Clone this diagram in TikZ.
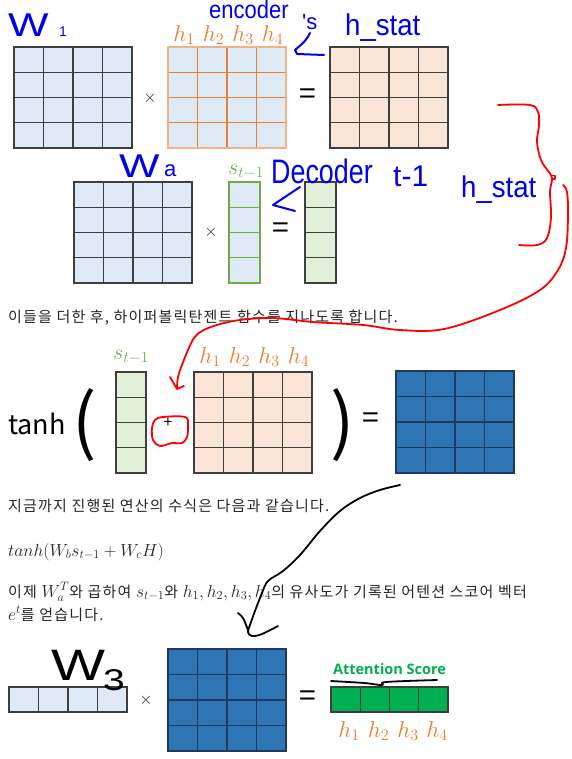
\RequirePackage{fix-cm}
\documentclass[tikz,border=0pt]{standalone}
\usepackage{fontspec}
\setmainfont{Noto Sans CJK KR}
\newfontfamily\kr{Noto Sans CJK KR}[LetterSpace=8]
\newfontfamily\hand{Liberation Sans}
\newfontfamily\osans{Open Sans}
\usetikzlibrary{calc}
\definecolor{lblue}{HTML}{DEEBF7}
\definecolor{peach}{HTML}{FBE5D6}
\definecolor{lgreen}{HTML}{E2F0D9}
\definecolor{dblue}{HTML}{2E75B6}
\definecolor{sgreen}{HTML}{00B050}
\definecolor{orng}{HTML}{ED7D31}
\definecolor{lorng}{HTML}{F4B183}
\definecolor{glab}{HTML}{70AD47}
\definecolor{gridc}{HTML}{3F3F3F}
\definecolor{navy}{HTML}{1F3A5F}
\definecolor{txt}{HTML}{262626}
\definecolor{pen}{HTML}{0000F0}
\definecolor{redpen}{HTML}{FF0000}

\newcommand{\gridm}[9]{%
  \node[draw=#9, fill=#8, line width=1.2pt, minimum width=#4pt, minimum height=#5pt,
        inner sep=0pt, outer sep=0pt, anchor=north west] (#1) at (#2,#3) {};
  \ifnum#6>1
    \foreach \k in {2,...,#6}{\draw[draw=#9, line width=1.2pt]
      ($(#1.north west)!{(\k-1)/#6}!(#1.north east)$) -- ($(#1.south west)!{(\k-1)/#6}!(#1.south east)$);}
  \fi
  \ifnum#7>1
    \foreach \k in {2,...,#7}{\draw[draw=#9, line width=1.2pt]
      ($(#1.north west)!{(\k-1)/#7}!(#1.south west)$) -- ($(#1.north east)!{(\k-1)/#7}!(#1.south east)$);}
  \fi
}
\newcommand{\mth}[1]{{\fontsize{17.5}{18}\selectfont$#1$}}

\tikzset{
  op/.style={text=txt, font=\fontsize{17}{17}\selectfont, inner sep=0pt},
  eqs/.style={text=black, font=\fontsize{30}{30}\selectfont, inner sep=0pt},
  hlab/.style={text=orng, font=\fontsize{23}{23}\selectfont, inner sep=0pt},
  slab/.style={text=glab, font=\fontsize{22}{22}\selectfont, inner sep=0pt},
  ktxt/.style={text=txt, font=\kr\fontsize{15}{18}\selectfont, inner sep=0pt, anchor=base west},
  hw/.style={text=pen, inner sep=0pt, anchor=base west},
  redstroke/.style={draw=redpen, line width=1.8pt, line cap=round, line join=round},
  bluestroke/.style={draw=pen, line width=2pt, line cap=round, line join=round},
  blackstroke/.style={draw=black, line width=1.8pt, line cap=round, line join=round},
}

\begin{document}
\begin{tikzpicture}[x=1pt, y=-1pt]
\fill[white] (0,0) rectangle (571,759);
\useasboundingbox (0,0) rectangle (571,759);

% ---------- row 1 ----------
\gridm{wone}{14}{47}{118}{101}{4}{4}{lblue}{gridc}
\gridm{hmat}{168}{47}{118}{101}{4}{4}{lblue}{orng}
\draw[lorng, line width=1.4pt] (hmat.north west) rectangle (hmat.south east);
\gridm{rone}{330}{47}{118}{101}{4}{4}{peach}{gridc}
\node[op] (xa) at (150,98) {$\times$};
\node[eqs] (ea) at (308,97) {=};
\foreach \i/\xx in {1/184,2/213.5,3/243,4/272.5}
  \node[hlab] (ha\i) at (\xx,35) {$h_{\i}$};

% ---------- row 2 ----------
\gridm{wa}{74}{182}{118}{101}{4}{4}{lblue}{gridc}
\gridm{svec}{229}{182}{31}{101}{1}{4}{lblue}{glab}
\gridm{rtwo}{305}{182}{31}{101}{1}{4}{lgreen}{gridc}
\node[op] (xb) at (211,232) {$\times$};
\node[eqs] (eb) at (281,231) {=};
\node[slab] (sa) at (246,172) {$s_{t-1}$};

\node[ktxt] (t1) at (8,322) {이들을 더한 후, 하이퍼볼릭탄젠트 함수를 지나도록 합니다.};

% ---------- row 3 ----------
\node[text=black, font=\fontsize{27}{27}\selectfont, inner sep=0pt, anchor=base west] (tanh) at (8,434) {tanh};
\node[text=black, font=\fontsize{72}{72}\selectfont, inner sep=0pt] (lp) at (85,425) {(};
\gridm{stwo}{116}{372}{30}{101}{1}{4}{lgreen}{gridc}
\node[slab] (sb) at (131,357) {$s_{t-1}$};
\node[text=black, font=\fontsize{15}{15}\selectfont, inner sep=0pt] (plus) at (168,423) {+};
\gridm{htwo}{194}{372}{118}{101}{4}{4}{peach}{gridc}
\foreach \i/\xx in {1/210,2/239.5,3/269,4/298.5}
  \node[hlab] (hb\i) at (\xx,357) {$h_{\i}$};
\node[text=black, font=\fontsize{72}{72}\selectfont, inner sep=0pt] (rp) at (343,425) {)};
\node[eqs] (ec) at (371,421) {=};
\gridm{bmat}{396}{371}{118}{102}{4}{4}{dblue}{navy}

% ---------- text ----------
\node[ktxt] (t2) at (8,511) {지금까지 진행된 연산의 수식은 다음과 같습니다.};
\node[ktxt] (t3) at (8,556) {\mth{tanh(W_bs_{t-1}+W_cH)}};
\node[ktxt] (t4) at (8,597) {이제 \mth{W_a^T}와 곱하여 \mth{s_{t-1}}와 \mth{h_1,h_2,h_3,h_4}의 유사도가 기록된 어텐션 스코어 벡터};
\node[ktxt] (t5) at (8,620) {\mth{e^t}를 얻습니다.};

% ---------- row 4 ----------
\gridm{wthree}{9}{687}{118}{25}{4}{1}{lblue}{gridc}
\gridm{bmattwo}{168}{649}{118}{102}{4}{4}{dblue}{navy}
\gridm{gvec}{331}{687}{117}{25}{4}{1}{sgreen}{gridc}
\node[op] (xc) at (146,700) {$\times$};
\node[eqs] (ed) at (308,699) {=};
\node[text=sgreen, font=\osans\bfseries\fontsize{14.5}{14.5}\selectfont, inner sep=0pt] (att) at (389.5,669) {Attention Score};
\foreach \i/\xx in {1/349,2/378.5,3/408,4/437}
  \node[hlab] (hc\i) at (\xx,731) {$h_{\i}$};

% ---------- blue handwriting ----------
\node[hw, font=\hand\fontsize{33}{33}\selectfont] (hwW1) at (8,37) {\scalebox{1.3}[1]{W}};
\node[hw, font=\hand\fontsize{14}{14}\selectfont] (hw1) at (59,37) {1};
\node[hw, font=\hand\fontsize{25}{25}\selectfont] (hwenc) at (209,19) {\scalebox{0.88}[1]{encoder}};
\node[hw, font=\hand\fontsize{22}{22}\selectfont] (hws) at (302,30) {'s};
\node[hw, font=\hand\fontsize{30}{30}\selectfont] (hwhs) at (345,36) {\scalebox{0.92}[1]{h\_stat}};
\draw[bluestroke] (310,33) .. controls (306,42) and (298,47) .. (295,50) -- (297,54) -- (324,55);

\node[hw, font=\hand\fontsize{33}{33}\selectfont] (hwWa) at (119,178) {\scalebox{1.3}[1]{W}};
\node[hw, font=\hand\fontsize{22}{22}\selectfont] (hwa) at (164,177) {a};
\node[hw, font=\hand\fontsize{34}{34}\selectfont] (hwdec) at (271,184) {\scalebox{0.79}[1]{Decoder}};
\node[hw, font=\hand\fontsize{30}{30}\selectfont] (hwt) at (393,187) {t-1};
\node[hw, font=\hand\fontsize{30}{30}\selectfont] (hwhs2) at (461,198) {\scalebox{0.92}[1]{h\_stat}};
\draw[bluestroke] (300,187) -- (273,205) -- (295,211);

% ---------- black handwriting ----------
\node[hw, text=black, font=\hand\fontsize{44}{44}\selectfont] (hwW3) at (51,680) {\scalebox{1.3}[1]{W}};
\node[hw, text=black, font=\hand\fontsize{30}{30}\selectfont] (hw3) at (103,690) {\scalebox{1.3}[1]{3}};
\draw[blackstroke] plot[smooth, tension=0.6] coordinates {(331,681) (364,683) (382,685) (386,682) (437,680)};
\draw[blackstroke] plot[smooth, tension=0.6] coordinates {(400,485) (380,490) (360,498) (340,511) (320,531) (300,555) (283,571) (268,581) (262,593) (255,611) (250,625) (248,632) (252,636) (262,634) (278,626)};
\draw[blackstroke] (238,613) .. controls (243,617) .. (248,630);

% ---------- red annotations ----------
\draw[redstroke] plot[smooth, tension=0.6] coordinates {(498,105) (530,105) (538,112) (539,125) (537,142) (541,160) (548,171) (552,178) (550,192) (551,217) (547,238) (537,245) (519,245)};
\draw[redstroke, line width=1.2pt] (551.5,175.5) rectangle (555,179);
\draw[redstroke] plot[smooth, tension=0.6] coordinates {(563,185) (567,192) (568,215) (566,248) (558,270) (540,290) (500,310) (444,329) (400,330) (363,325) (313,322) (273,318) (240,320) (217,325) (202,331) (194,338) (188,350) (182,365) (178,377) (177,388)};
\draw[redstroke] (170,377) -- (177,389) -- (184,386);
\draw[redstroke] plot[smooth cycle, tension=0.6] coordinates {(155,420) (163,417) (185,417) (188,425) (187,437) (182,443) (172,443) (160,446) (153,440) (152,428)};
\end{tikzpicture}
\end{document}
